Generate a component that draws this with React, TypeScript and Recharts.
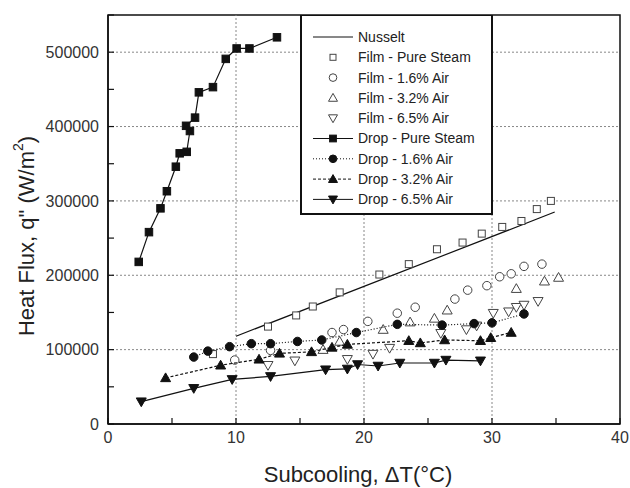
import React from 'react'
import { ScatterChart, Scatter, XAxis, YAxis, ReferenceLine, ReferenceArea, Label } from 'recharts'

// axis ticks (minor every 5 / 50000, labels only on major)
const xTicks = [0, 5, 10, 15, 20, 25, 30, 35, 40]
const yTicks = [0, 50000, 100000, 150000, 200000, 250000, 300000, 350000, 400000, 450000, 500000, 550000]
const gridX = [10, 20, 30]
const gridY = [100000, 200000, 300000, 400000, 500000]

// [subcooling °C, heat flux W/m2]
const nusselt = [[10, 118000], [20, 185000], [34.9, 285000]]
const filmPure = [
  [8.2, 94000], [12.5, 131000], [14.7, 146000], [16.0, 158000], [18.1, 177000], [21.2, 201000],
  [23.5, 215000], [25.7, 235000], [27.7, 244000], [29.2, 256000], [30.8, 265000], [32.3, 273000],
  [33.5, 289000], [34.6, 300000],
]
const film16 = [
  [9.9, 86000], [12.7, 99000], [17.5, 123000], [18.4, 127000], [20.3, 138000], [22.6, 149000],
  [24.0, 157000], [27.1, 168000], [28.1, 180000], [29.6, 186000], [30.6, 198000], [31.5, 202000],
  [32.5, 212000], [33.9, 215000],
]
const film32 = [
  [16.8, 100000], [18.1, 111000], [21.5, 127000], [23.6, 137000], [25.5, 142000], [26.5, 153000],
  [31.9, 182000], [34.1, 192000], [35.2, 197000],
]
const film65 = [
  [12.5, 79000], [14.6, 85000], [18.7, 87000], [20.7, 94000], [22.0, 102000], [26.0, 122000],
  [28.0, 127000], [28.8, 132000], [30.1, 149000], [31.3, 151000], [31.9, 157000], [32.5, 160000],
  [33.6, 165000],
]
const dropPure = [
  [2.4, 218000], [3.2, 258000], [4.1, 290000], [4.6, 313000], [5.3, 346000], [5.6, 364000],
  [6.15, 366000], [6.4, 394000], [6.1, 401000], [6.8, 412000], [7.1, 446000], [8.2, 453000],
  [9.2, 491000], [10.05, 505000], [11.05, 505000], [13.2, 520000],
]
const drop16 = [
  [6.7, 90000], [7.8, 98000], [9.5, 104000], [11.2, 108000], [12.7, 108000], [14.8, 111000],
  [16.7, 113000], [19.4, 123000], [22.6, 134000], [26.1, 133000], [28.6, 135000], [30.0, 136000],
  [32.5, 148000],
]
const drop32 = [
  [4.5, 62000], [8.8, 79000], [11.8, 87000], [13.4, 95000], [15.9, 97000], [17.5, 103000],
  [18.7, 107000], [23.5, 112000], [24.4, 109000], [26.3, 113000], [29.1, 112000], [29.9, 116000],
  [31.5, 123000],
]
const drop65 = [
  [2.6, 30000], [6.7, 48000], [9.7, 60000], [12.7, 64000], [17.0, 73000], [18.7, 74000],
  [19.5, 80000], [21.1, 78000], [22.8, 82000], [25.5, 82000], [26.4, 86000], [29.1, 85000],
]

const toPts = (a: number[][]) => a.map(([x, y]) => ({ x, y }))

type Kind = 'none' | 'square' | 'circle' | 'up' | 'down'

const series = [
  { name: 'Nusselt', data: nusselt, kind: 'none' as Kind, filled: false, size: 0, line: '' },
  { name: 'Film - Pure Steam', data: filmPure, kind: 'square' as Kind, filled: false, size: 7, line: null },
  { name: 'Film - 1.6% Air', data: film16, kind: 'circle' as Kind, filled: false, size: 8.5, line: null },
  { name: 'Film - 3.2% Air', data: film32, kind: 'up' as Kind, filled: false, size: 10, line: null },
  { name: 'Film - 6.5% Air', data: film65, kind: 'down' as Kind, filled: false, size: 10, line: null },
  { name: 'Drop - Pure Steam', data: dropPure, kind: 'square' as Kind, filled: true, size: 7.5, line: '' },
  { name: 'Drop - 1.6% Air', data: drop16, kind: 'circle' as Kind, filled: true, size: 8.5, line: '1 2' },
  { name: 'Drop - 3.2% Air', data: drop32, kind: 'up' as Kind, filled: true, size: 10, line: '3 2' },
  { name: 'Drop - 6.5% Air', data: drop65, kind: 'down' as Kind, filled: true, size: 10, line: '' },
]

const Marker = ({ cx, cy, kind, filled, s }: any) => {
  const fill = filled ? '#111' : '#fff'
  const stroke = filled ? '#111' : '#444'
  const h = s / 2
  if (kind === 'square') return <rect x={cx - h} y={cy - h} width={s} height={s} fill={fill} stroke={stroke} strokeWidth={1} />
  if (kind === 'circle') return <circle cx={cx} cy={cy} r={h} fill={fill} stroke={stroke} strokeWidth={1} />
  if (kind === 'up')
    return <polygon points={`${cx},${cy - h} ${cx + h},${cy + h * 0.75} ${cx - h},${cy + h * 0.75}`} fill={fill} stroke={stroke} strokeWidth={1} />
  if (kind === 'down')
    return <polygon points={`${cx},${cy + h} ${cx + h},${cy - h * 0.75} ${cx - h},${cy - h * 0.75}`} fill={fill} stroke={stroke} strokeWidth={1} />
  return <g />
}

const XTick = ({ x, y, payload }: any) => {
  const ay = y - 8
  return (
    <g>
      <line x1={x} x2={x} y1={ay} y2={ay - 6} stroke="#111" strokeWidth={1.2} />
      {payload.value % 10 === 0 && (
        <text x={x} y={y} dy="0.71em" textAnchor="middle" fontSize={16} fill="#333">{payload.value}</text>
      )}
    </g>
  )
}

const YTick = ({ x, y, payload }: any) => {
  const ax = x + 8
  return (
    <g>
      <line x1={ax} x2={ax + 6} y1={y} y2={y} stroke="#111" strokeWidth={1.2} />
      {payload.value % 100000 === 0 && (
        <text x={x - 1} y={y} dy="0.35em" textAnchor="end" fontSize={16} fill="#333">{payload.value}</text>
      )}
    </g>
  )
}

const LegendBox = () => (
  <svg width={193} height={200} style={{ position: 'absolute', left: 300, top: 15 }}>
    <rect x={1} y={0} width={191} height={199} fill="#fff" stroke="#111" strokeWidth={2} />
    {series.map((s, i) => {
      const cy = 22 + i * 20.3
      return (
        <g key={s.name}>
          {s.line !== null && (
            <line x1={13} x2={53} y1={cy} y2={cy} stroke="#111" strokeWidth={1} strokeDasharray={s.line || undefined} />
          )}
          <Marker cx={33} cy={cy} kind={s.kind} filled={s.filled} s={s.kind === 'square' && !s.filled ? 6 : s.size * 0.9} />
          <text x={58} y={cy} dy="0.35em" fontSize={14} fill="#222">{s.name}</text>
        </g>
      )
    })}
  </svg>
)

export default function App() {
  return (
    <div style={{ position: 'absolute', left: 0, top: 0, width: 630, height: 488, fontFamily: 'Liberation Sans, Arial, sans-serif', background: '#fff' }}>
      <ScatterChart width={630} height={488} margin={{ top: 15, right: 10, bottom: 0, left: 0 }}>
        <XAxis
          type="number"
          dataKey="x"
          domain={[0, 40]}
          ticks={xTicks}
          tick={<XTick />}
          tickLine={false}
          tickSize={6}
          tickMargin={2}
          height={64}
          axisLine={{ stroke: '#111', strokeWidth: 1.5 }}
          interval={0}
        >
          <Label value="Subcooling, ΔT(°C)" position="insideBottom" offset={6} dx={-6} style={{ fontSize: 22, fill: '#222' }} />
        </XAxis>
        <YAxis
          type="number"
          dataKey="y"
          domain={[0, 550000]}
          ticks={yTicks}
          tick={<YTick />}
          tickLine={false}
          tickSize={6}
          tickMargin={2}
          width={108}
          axisLine={{ stroke: '#111', strokeWidth: 1.5 }}
          interval={0}
        >
          <Label
            content={() => (
              <text transform="translate(26,236) rotate(-90)" textAnchor="middle" dominantBaseline="central" fontSize={22} fill="#222">
                Heat Flux, q" (W/m<tspan dy={-8} fontSize={14}>2</tspan><tspan dy={8}>)</tspan>
              </text>
            )}
          />
        </YAxis>
        {gridX.map((v) => (
          <ReferenceLine key={'gx' + v} x={v} stroke="#888" strokeDasharray="2 2" />
        ))}
        {gridY.map((v) => (
          <ReferenceLine key={'gy' + v} y={v} stroke="#888" strokeDasharray="2 2" />
        ))}
        <ReferenceArea x1={0} x2={40} y1={0} y2={550000} fill="none" fillOpacity={0} stroke="#111" strokeWidth={1.5} />
        {series.map((s) => (
          <Scatter
            key={s.name}
            name={s.name}
            data={toPts(s.data)}
            isAnimationActive={false}
            line={s.line !== null ? { stroke: '#111', strokeWidth: 1.2, strokeDasharray: s.line || undefined } : false}
            lineType="joint"
            shape={(p: any) => <Marker cx={p.cx} cy={p.cy} kind={s.kind} filled={s.filled} s={s.size} />}
          />
        ))}
      </ScatterChart>
      <LegendBox />
    </div>
  )
}
